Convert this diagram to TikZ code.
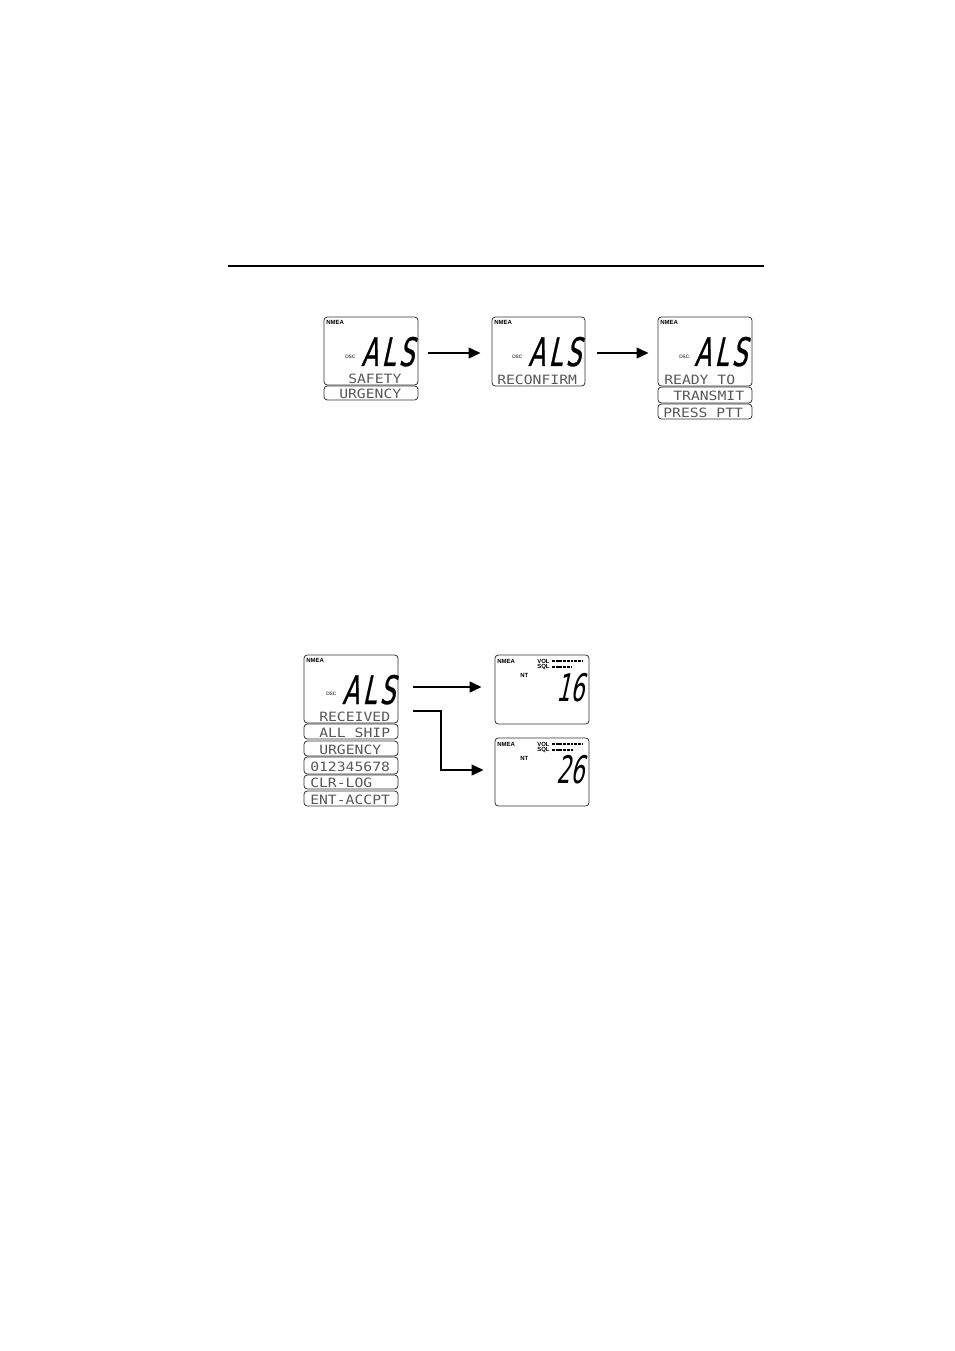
\documentclass[tikz,border=0pt]{standalone}
\usepackage{fontspec}
\setmainfont{Liberation Sans}
\newfontfamily\lcdfont[FakeStretch=1.15]{DejaVu Sans Mono}
\newfontfamily\segfont[FakeSlant=0.22,FakeStretch=0.62,LetterSpace=9,FakeBold=0.6]{DejaVu Sans}
\newfontfamily\numfont[FakeSlant=0.22,FakeStretch=0.58]{DejaVu Sans}
\usetikzlibrary{arrows.meta,fit,calc}
\tikzset{
  lcd/.style={draw=black!80, line width=0.6pt, rounded corners=2.5pt, inner sep=0pt},
  lcdtxt/.style={anchor=base west, inner sep=0pt, font=\lcdfont\fontsize{9.6}{10}\selectfont, text=black!66},
  segtxt/.style={anchor=base west, inner sep=0pt, font=\segfont\fontsize{29.5}{30}\selectfont},
  numtxt/.style={anchor=base east, inner sep=0pt, font=\numfont\fontsize{28.5}{29}\selectfont},
  tinytxt/.style={anchor=west, inner sep=0pt, font=\fontsize{4.5}{4.5}\selectfont\bfseries},
  dsctxt/.style={anchor=west, inner sep=0pt, font=\fontsize{3.6}{3.6}\selectfont},
  arr/.style={line width=1.6pt, line join=miter, -{Triangle[length=9pt,width=8pt]}},
  bar/.style={line width=1.5pt, dash pattern=on 2.1pt off 0.7pt},
  rule/.style={line width=0.8pt}
}
\begin{document}
\begin{tikzpicture}[x=0.75pt,y=-0.75pt]
\useasboundingbox (0,0) rectangle (954,1351);
% header rule
\coordinate (hl) at (228,266);
\coordinate (hr) at (764,266);
\draw[rule] (hl) -- (hr);

% ---------- top row ----------
% display 1
\node[lcd, fit={(324,317)(418,385)}] (d1) {};
\node[lcd, fit={(324,386)(418,400)}] (d1s1) {};
\node[tinytxt] (d1n) at (326,322) {NMEA};
\node[dsctxt] (d1d) at (345,357) {DSC};
\node[segtxt] (d1a) at (361,366) {ALS};
\node[lcdtxt] (d1t1) at (348,383) {SAFETY};
\node[lcdtxt] (d1t2) at (339,398) {URGENCY};

% display 2
\node[lcd, fit={(492,317)(585,386)}] (d2) {};
\node[tinytxt] (d2n) at (494,322) {NMEA};
\node[dsctxt] (d2d) at (512,357) {DSC};
\node[segtxt] (d2a) at (528,366) {ALS};
\node[lcdtxt] (d2t1) at (497,384) {RECONFIRM};

% display 3
\node[lcd, fit={(658,317)(752,386)}] (d3) {};
\node[lcd, fit={(658,387)(752,403)}] (d3s1) {};
\node[lcd, fit={(658,404)(752,419)}] (d3s2) {};
\node[tinytxt] (d3n) at (660,322) {NMEA};
\node[dsctxt] (d3d) at (679,357) {DSC};
\node[segtxt] (d3a) at (694,366) {ALS};
\node[lcdtxt] (d3t1) at (664,384) {READY TO};
\node[lcdtxt] (d3t2) at (673,401) {TRANSMIT};
\node[lcdtxt] (d3t3) at (663,417) {PRESS PTT};

\draw[arr] ($(d1.east)+(10,2)$) -- ($(d2.west)+(-11,1.5)$);
\draw[arr] ($(d2.east)+(12,1.5)$) -- ($(d3.west)+(-9,1.5)$);

% ---------- bottom ----------
\node[lcd, fit={(304,655)(398,723)}] (r) {};
\node[lcd, fit={(304,724)(398,739)}] (rs1) {};
\node[lcd, fit={(304,741)(398,756)}] (rs2) {};
\node[lcd, fit={(304,757)(398,774)}] (rs3) {};
\node[lcd, fit={(304,775)(398,789)}] (rs4) {};
\node[lcd, fit={(304,791)(398,806)}] (rs5) {};
\node[tinytxt] (rn) at (306,660) {NMEA};
\node[dsctxt] (rd) at (326,694) {DSC};
\node[segtxt] (ra) at (342,704) {ALS};
\node[lcdtxt] (rt0) at (319,721) {RECEIVED};
\node[lcdtxt] (rt1) at (319,737) {ALL SHIP};
\node[lcdtxt] (rt2) at (319,754) {URGENCY};
\node[lcdtxt] (rt3) at (310,771) {012345678};
\node[lcdtxt] (rt4) at (310,787) {CLR-LOG};
\node[lcdtxt] (rt5) at (310,804) {ENT-ACCPT};

% channel 16 display
\node[lcd, fit={(495,655)(589,724)}] (c1) {};
\node[tinytxt] (c1n) at (497,661) {NMEA};
\node[tinytxt] (c1v) at (537,661) {VOL};
\node[tinytxt] (c1s) at (537,667) {SQL};
\node[tinytxt] (c1i) at (520,675) {NT};
\draw[bar] (552,661) -- (582,661);
\draw[bar] (552,667) -- (572,667);
\node[numtxt] (c1num) at (585,701) {16};

% channel 26 display
\node[lcd, fit={(495,738)(589,806)}] (c2) {};
\node[tinytxt] (c2n) at (497,744) {NMEA};
\node[tinytxt] (c2v) at (537,744) {VOL};
\node[tinytxt] (c2s) at (537,750) {SQL};
\node[tinytxt] (c2i) at (520,758) {NT};
\draw[bar] (552,744) -- (583,744);
\draw[bar] (552,750) -- (573,750);
\node[numtxt] (c2num) at (585,783) {26};

\coordinate (e1) at (413,687);
\coordinate (e2) at (413,711);
\draw[arr] (e1) -- ($(c1.west)+(-13,-2.5)$);
\draw[arr] (e2) -- ++(28,0) |- ($(c2.west)+(-11,-2)$);
\end{tikzpicture}
\end{document}
